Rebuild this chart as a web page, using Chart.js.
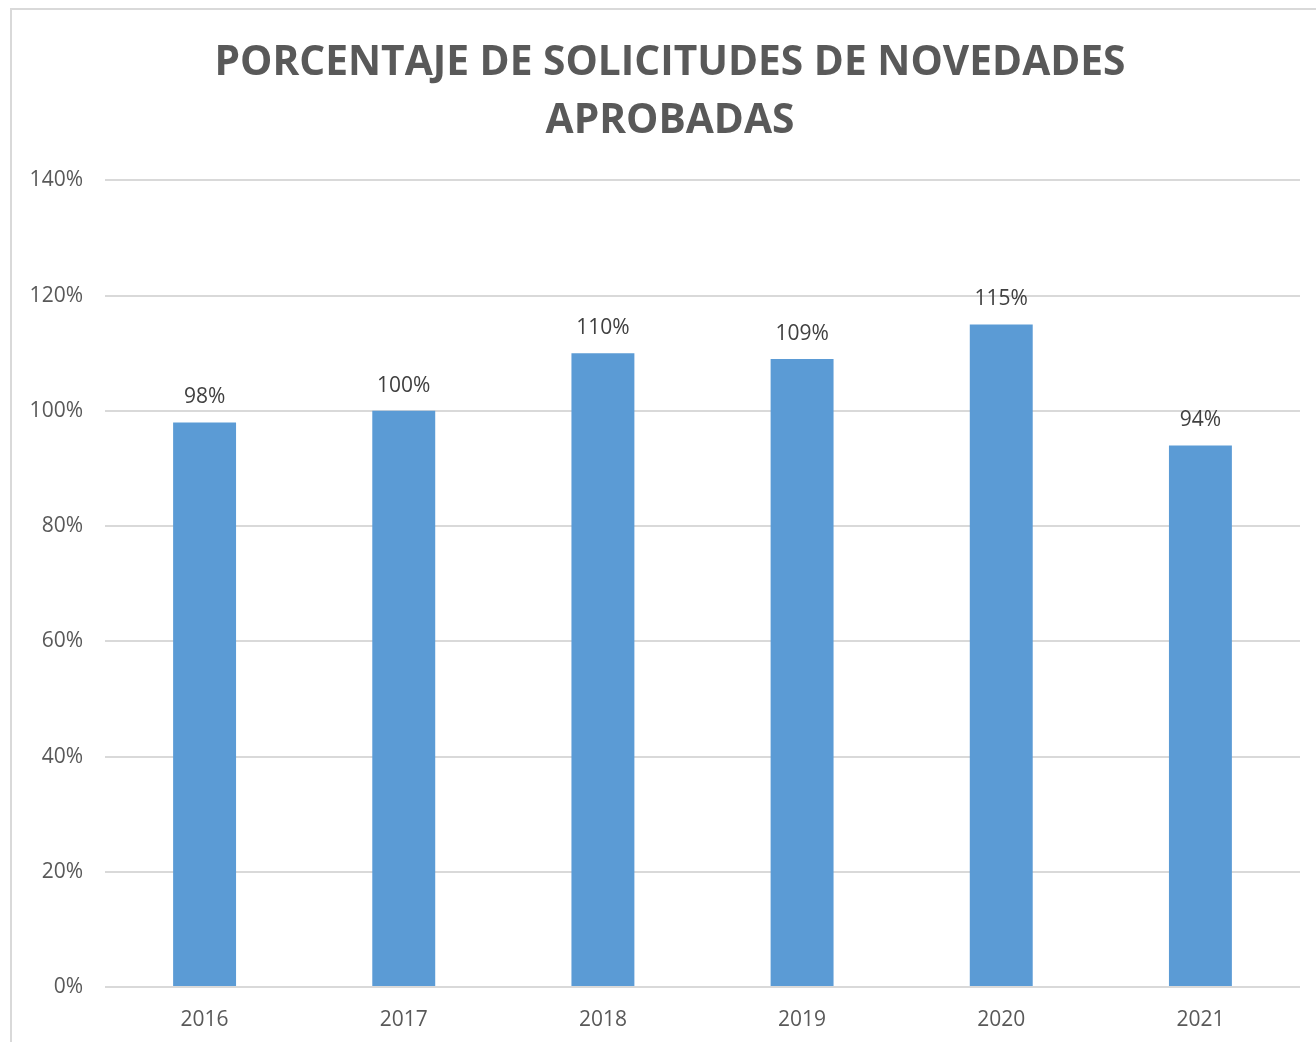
<!DOCTYPE html>
<html>
<head>
<meta charset="utf-8">
<title>Porcentaje de solicitudes de novedades aprobadas</title>
<script src="https://cdn.jsdelivr.net/npm/chart.js@4.4.1/dist/chart.umd.min.js"></script>
<style>
  html, body { margin: 0; padding: 0; background: #fff; overflow: hidden; }
  #frame { position: absolute; left: 10px; top: 8px; width: 1400px; height: 1100px; border: 2px solid #d9d9d9; }
  #wrap { position: absolute; left: 0; top: 0; width: 1316px; height: 1042px; }
</style>
</head>
<body>
<div id="frame"></div>
<div id="wrap"><canvas id="chart"></canvas></div>
<script>
// data
const years = ['2016', '2017', '2018', '2019', '2020', '2021'];
const approved = [0.98, 1.00, 1.10, 1.09, 1.15, 0.94];
const yTicks = [0, 0.2, 0.4, 0.6, 0.8, 1.0, 1.2, 1.4];

const FONT = "'Open Sans', 'Noto Sans', sans-serif";

// draws the value above each bar
const barLabels = {
  id: 'barLabels',
  afterDatasetsDraw(chart) {
    const ctx = chart.ctx;
    ctx.save();
    ctx.font = '21px ' + FONT;
    ctx.fillStyle = '#404040';
    ctx.textAlign = 'center';
    ctx.textBaseline = 'middle';
    chart.getDatasetMeta(0).data.forEach((bar, i) => {
      const v = chart.data.datasets[0].data[i];
      ctx.fillText(Math.round(v * 100) + '%', bar.x, bar.y - 25);
    });
    ctx.restore();
  }
};

new Chart(document.getElementById('chart'), {
  type: 'bar',
  data: {
    labels: years,
    datasets: [{
      data: approved,
      backgroundColor: '#5b9bd5',
      categoryPercentage: 1,
      barPercentage: 0.316
    }]
  },
  options: {
    responsive: true,
    maintainAspectRatio: false,
    animation: false,
    layout: { padding: { top: 0, bottom: 0, left: 24, right: 0 } },
    plugins: {
      legend: { display: false },
      tooltip: { enabled: false },
      title: {
        display: true,
        text: ['PORCENTAJE DE SOLICITUDES DE NOVEDADES', 'APROBADAS'],
        color: '#595959',
        font: { family: FONT, size: 40.7, weight: 'bold', lineHeight: 1.43 },
        padding: { top: 34, bottom: 30 }
      }
    },
    scales: {
      x: {
        grid: { display: false, drawTicks: false },
        border: { display: false },
        ticks: { color: '#595959', font: { family: FONT, size: 21 }, padding: 20 },
        afterFit(s) { s.height = 55; }
      },
      y: {
        min: 0,
        max: 1.4,
        afterBuildTicks(s) { s.ticks = yTicks.map(v => ({ value: v })); },
        grid: { color: '#d9d9d9', lineWidth: 2, drawTicks: false },
        border: { display: false },
        ticks: {
          color: '#595959',
          font: { family: FONT, size: 21 },
          padding: 22,
          callback: v => Math.round(v * 100) + '%'
        },
        afterFit(s) { s.width = 81; }
      },
      // empty right-hand spacer so the plot ends where the reference does
      yRight: {
        position: 'right',
        min: 0,
        max: 1.4,
        grid: { display: false, drawTicks: false },
        border: { display: false },
        ticks: { display: false },
        afterFit(s) { s.width = 16; }
      }
    }
  },
  plugins: [barLabels]
});
</script>
</body>
</html>
